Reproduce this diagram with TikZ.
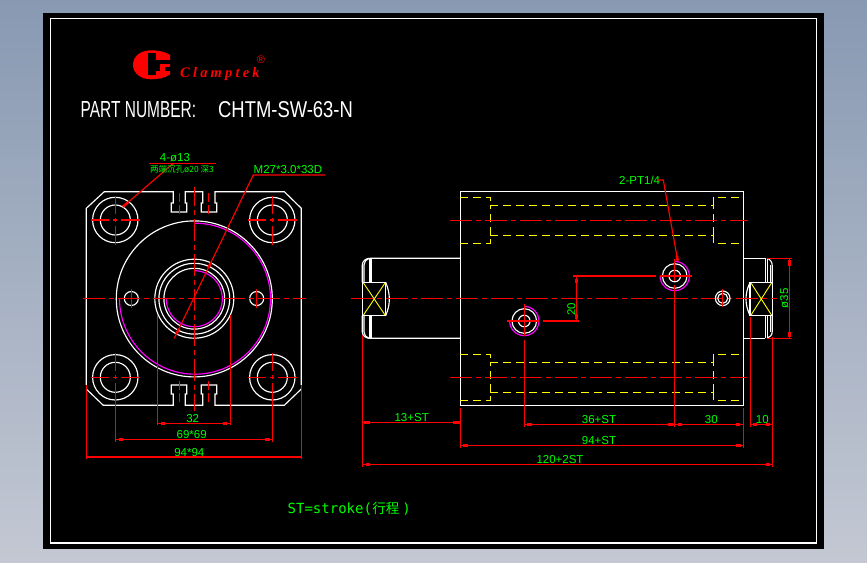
\documentclass[tikz,border=0pt]{standalone}
\usepackage{fontspec}
\usepackage{graphicx}
\setmainfont{Liberation Sans}
\newfontfamily\cjkfont{Noto Sans CJK SC}
\newfontfamily\clampfont[LetterSpace=22]{Liberation Serif}
\newfontfamily\strokefont{DejaVu Sans Mono}
\definecolor{cadred}{RGB}{255,0,0}
\definecolor{cadgreen}{RGB}{0,255,0}
\definecolor{cadmag}{RGB}{255,0,255}
\definecolor{cadyel}{RGB}{255,255,0}
\tikzset{
  outline/.style={draw=white,line width=1.15pt},
  hidden/.style={draw=cadyel,line width=1.15pt,dash pattern=on 8pt off 5pt},
  yelsolid/.style={draw=cadyel,line width=0.9pt},
  redline/.style={draw=cadred,line width=1.15pt},
  centerl/.style={draw=cadred,line width=1.15pt,dash pattern=on 22pt off 4pt on 5pt off 4pt},
  thinc/.style={draw=cadred,line width=0.8pt,dash pattern=on 22pt off 4pt on 5pt off 4pt},
  thread/.style={draw=cadmag,line width=1.15pt},
  lab/.style={text=cadgreen,inner sep=0pt,font=\fontsize{11.5}{12}\selectfont},
  tinylab/.style={text=cadgreen,inner sep=0pt,font=\fontsize{8.5}{9}\selectfont},
}
% three-quarter thread arc: missing the upper-left quadrant
\newcommand\threearc[3]{\draw[thread] plot[domain=-90:180,samples=90] ({#1+#3*cos(\x)},{#2+#3*sin(\x)});}
% hole centre cross
\newcommand\holecross[3]{%
  \draw[redline] ({#1-#3},#2) -- ({#1-6},#2) ({#1-2},#2) -- ({#1+2},#2) ({#1+6},#2) -- ({#1+#3},#2)
                 (#1,{#2-#3}) -- (#1,{#2-6}) (#1,{#2-2}) -- (#1,{#2+2}) (#1,{#2+6}) -- (#1,{#2+#3});}
% thick dimension tip
\newcommand\htip[3]{\fill[cadred] (#1,{#3-1.4}) rectangle (#2,{#3+1.4});}
\newcommand\vtip[3]{\fill[cadred] ({#3-1.4},#1) rectangle ({#3+1.4},#2);}
\begin{document}
\begin{tikzpicture}[x=1pt,y=-1pt]
\useasboundingbox (0,0) rectangle (867,562);
\shade[top color={rgb,255:red,136;green,153;blue,178},bottom color={rgb,255:red,195;green,200;blue,211}] (0,0) rectangle (867,562);
\fill[black] (43,13) rectangle (824,549);
\draw[white,line width=1.2pt] (50.5,18.5) rectangle (816.5,543);

% ---- logo
\fill[cadred] (151,50.3) .. controls (141,50.3) and (133,56) .. (133,64.8) .. controls (133,73.5) and (141,79.3) .. (151,79.3)
   .. controls (158,79.3) and (165,78) .. (170,74.5) -- (170,55) .. controls (165,51.5) and (158,50.3) .. (151,50.3) -- cycle;
\fill[black] (148.3,52.7) rectangle (155.7,75.3);
\fill[black] (155.7,60.3) rectangle (172,64);
\fill[black] (155.7,60.3) rectangle (160,71);
\fill[black] (165,66.7) rectangle (172,71);
\node[anchor=base west,inner sep=0pt,text=cadred,font=\fontsize{14.5}{15}\selectfont\clampfont\bfseries\itshape] (logotext) at (180,77) {Clamptek};
\node[text=cadred,inner sep=0pt,font=\fontsize{11}{11}\selectfont] (logoreg) at (261,59.3) {®};
\node[anchor=west,inner sep=0pt,text=white] (partno) at (80.5,110) {\resizebox{115.5pt}{16pt}{PART NUMBER:}};
\node[anchor=west,inner sep=0pt,text=white] (partid) at (218,110) {\resizebox{134.7pt}{16pt}{CHTM-SW-63-N}};

% ---- front view outline
\draw[outline] (86.3,385) -- (86.3,208.3) -- (104.3,191.7) -- (173.3,191.7) -- (173.3,203) -- (171.3,203) -- (171.3,212) -- (186.7,212) -- (186.7,203) -- (185.3,203) -- (185.3,191.7)
  -- (202.7,191.7) -- (202.7,203) -- (201.3,203) -- (201.3,212) -- (216.7,212) -- (216.7,203) -- (215,203) -- (215,191.7) -- (284.3,191.7) -- (301.3,208.3) -- (301.3,385);
\draw[outline] (86.3,389) -- (103.3,405.3) -- (173.3,405.3) -- (173.3,394) -- (171.3,394) -- (171.3,385) -- (186.7,385) -- (186.7,394) -- (185.3,394) -- (185.3,405.3)
  -- (202.7,405.3) -- (202.7,394) -- (201.3,394) -- (201.3,385) -- (216.7,385) -- (216.7,394) -- (215,394) -- (215,405.3) -- (284.3,405.3) -- (301.3,389);
\foreach \hx/\hy in {115.3/220,272.3/220,115.3/377.3,272.3/377.3}{
  \draw[outline] (\hx,\hy) circle[radius=22.7pt] (\hx,\hy) circle[radius=15pt];
}
\draw[outline] (194.3,298.9) circle[radius=78pt];
\threearc{195}{298.7}{75.5}
\foreach \r in {39.5,35.4,30.4}{\draw[outline] (194.3,298.7) circle[radius=\r pt];}
\threearc{194.3}{298.7}{28}
\draw[outline] (131.3,298.5) circle[radius=7pt] (256.7,298.5) circle[radius=7pt];

% ---- front view centre lines
\draw[centerl] (83,298.5) -- (305.7,298.5);
\draw[centerl,dash phase=3pt] (194.3,186.7) -- (194.3,410.7);
\holecross{115.3}{220}{24.5}
\holecross{272.3}{220}{24.5}
\holecross{115.3}{377.3}{24.5}
\holecross{272.3}{377.3}{24.5}
\draw[redline,dash pattern=on 9pt off 3pt] (179.3,193.3) -- (179.3,216.7) (208.3,193.3) -- (208.3,216.7);
\draw[redline,dash pattern=on 9pt off 3pt] (179.3,381) -- (179.3,404) (208.3,381) -- (208.3,404);
\draw[redline] (131.3,289) -- (131.3,308) (256.7,289) -- (256.7,308);

% ---- leaders
\draw[redline] (149,163.3) -- (216,163.3);
\coordinate (lead1) at (173.3,163.3);
\coordinate (lead1end) at (123,206.7);
\draw[redline] (lead1) -- (lead1end);
\draw[cadred,line width=2.6pt] (123,206.7) -- (128,202.4);
\coordinate (lead2) at (253.3,175);
\coordinate (lead2end) at (174.3,338.3);
\draw[redline] (325,175) -- (lead2) -- (lead2end);
\draw[cadred,line width=2.4pt] (208.4,268) -- (211,262.5);
\draw[cadred,line width=2.4pt] (176.5,334) -- (179,328.5);
\node[lab] (t4) at (175,158) {4-ø13};
\node[tinylab,text=cadgreen] (tcb) at (182,169) {\cjkfont 两端沉孔ø20 深3};
\node[lab,anchor=base west] (tm) at (253.5,173.5) {M27*3.0*33D};

% ---- front view dimensions
\draw[redline] (157.3,315) -- (157.3,425) (230.5,315) -- (230.5,425) (157.3,423.3) -- (230.5,423.3);
\htip{161}{165}{423.3}\htip{223}{227}{423.3}
\draw[redline] (115.3,391) -- (115.3,441.7) (272.3,391) -- (272.3,441.7) (115.3,439.3) -- (272.3,439.3);
\htip{118.5}{123}{439.3}\htip{265}{269.5}{439.3}
\draw[redline] (86.3,385) -- (86.3,459.3) (301.3,385) -- (301.3,459.3) (86.3,457) -- (301.3,457);
\htip{87}{93.5}{457}\htip{294.5}{300.5}{457}
\node[lab] (d32) at (192.7,419) {32};
\node[lab] (d69) at (191.7,434.7) {69*69};
\node[lab] (d94) at (189.3,452.3) {94*94};

% ---- side view body
\draw[outline] (460.3,258.3) -- (460.3,191.3) -- (743.7,191.3) -- (743.7,405.3) -- (460.3,405.3) -- (460.3,338.3);
\draw[outline] (460.3,258.3) -- (460.3,338.3);
% hidden bores
\draw[hidden] (460.3,197.3) -- (490.3,197.3) -- (490.3,205.3);
\draw[hidden] (490.3,205.3) -- (713.3,205.3);
\draw[hidden] (713.3,205.3) -- (713.3,197.3) -- (743.7,197.3);
\draw[hidden] (460.3,243.3) -- (490.3,243.3) -- (490.3,235.3);
\draw[hidden] (490.3,235.3) -- (713.3,235.3);
\draw[hidden] (713.3,235.3) -- (713.3,243.3) -- (743.7,243.3);
\draw[hidden] (490.3,235.3) -- (490.3,205.3) (713.3,235.3) -- (713.3,205.3);
\draw[hidden] (460.3,354.3) -- (490.3,354.3) -- (490.3,362.3);
\draw[hidden] (490.3,362.3) -- (713.3,362.3);
\draw[hidden] (713.3,362.3) -- (713.3,354.3) -- (743.7,354.3);
\draw[hidden] (460.3,400.3) -- (490.3,400.3) -- (490.3,392.3);
\draw[hidden] (490.3,392.3) -- (713.3,392.3);
\draw[hidden] (713.3,392.3) -- (713.3,400.3) -- (743.7,400.3);
\draw[hidden] (490.3,392.3) -- (490.3,362.3) (713.3,392.3) -- (713.3,362.3);

% ---- left rod
\draw[outline] (460.3,258.3) -- (370,258.3) .. controls (366,258.3) and (362.3,261) .. (362.3,265) -- (362.3,282.3);
\draw[outline] (460.3,338.3) -- (370,338.3) .. controls (366,338.3) and (362.3,336) .. (362.3,332) -- (362.3,315.7);
\draw[outline] (364,282.3) -- (364,265) .. controls (364,262) and (366,259.5) .. (369,258.3);
\draw[outline] (364,315.7) -- (364,332) .. controls (364,335) and (366,337.3) .. (369,338.3);
\draw[outline] (369.3,258.3) -- (369.3,282.3) (371,258.3) -- (371,282.3);
\draw[outline] (369.3,315.7) -- (369.3,338.3) (371,315.7) -- (371,338.3);
\draw[outline] (362.7,282.3) rectangle (385.7,315.7);
\draw[outline] (385.7,282.3) .. controls (388.5,289) and (389.3,294) .. (389.3,299) .. controls (389.3,304) and (388.5,309) .. (385.7,315.7);
\draw[yelsolid] (363.5,283) -- (385,315) (385,283) -- (363.5,315);

% ---- right rod
\draw[outline] (743.7,258.3) -- (765,258.3) (743.7,338.3) -- (765,338.3);
\draw[outline] (765.7,258.3) -- (765.7,282.3) (767.5,258.3) -- (767.5,282.3);
\draw[outline] (765.7,315.7) -- (765.7,338.3) (767.5,315.7) -- (767.5,338.3);
\draw[outline] (767,258.3) .. controls (770,259) and (772.3,262) .. (772.3,266) -- (772.3,282.3);
\draw[outline] (767,338.3) .. controls (770,337.5) and (772.3,335) .. (772.3,331) -- (772.3,315.7);
\draw[outline] (770.4,282.3) -- (770.4,265) (770.4,315.7) -- (770.4,332);
\draw[outline] (750,282.3) rectangle (772.3,315.7);
\draw[outline] (750,282.3) .. controls (747,289) and (746,294) .. (746,299) .. controls (746,304) and (747,309) .. (750,315.7);
\draw[yelsolid] (751,283) -- (771.5,315) (771.5,283) -- (751,315);

% ---- side view centre lines
\draw[centerl] (450,220.3) -- (747.7,220.3);
\draw[centerl] (351,298.3) -- (777,298.3);
\draw[thinc] (450,377.3) -- (747,377.3);

% ---- ports
\threearc{674.7}{276}{14.6}
\draw[outline] (674.7,276) circle[radius=12.3pt] (674.7,276) circle[radius=5.8pt];
\threearc{524.3}{321}{14.6}
\draw[outline] (524.3,321) circle[radius=12.3pt] (524.3,321) circle[radius=5.8pt];
\draw[outline] (722.7,298.3) circle[radius=7.3pt] (722.7,298.3) circle[radius=5pt];
\draw[redline] (722.7,289) -- (722.7,307);
\draw[redline] (573.3,276) -- (656,276) (660,276) -- (691.7,276);
\draw[redline] (674.7,259.3) -- (674.7,281) (674.7,285) -- (674.7,426.7);
\draw[redline] (507.3,321) -- (539,321) (542.7,321) -- (579,321);
\draw[redline] (524.3,304.3) -- (524.3,336) (524.3,340) -- (524.3,426.7);

% ---- side dimensions
\draw[redline] (576.3,276) -- (576.3,321);
\vtip{278.5}{283}{576.3}\vtip{314}{319}{576.3}
\node[lab,rotate=90] (d20) at (571.3,309.3) {20};
\draw[redline] (362.3,335) -- (362.3,466.7) (460.3,408.3) -- (460.3,447.7) (743.3,408.3) -- (743.3,447.7) (772.3,336.7) -- (772.3,466.7) (750.3,316.7) -- (750.3,426.7);
\draw[redline] (362.3,422.3) -- (460.3,422.3);
\htip{364}{370}{422.3}\htip{453.3}{460}{422.3}
\draw[redline] (524.3,424.3) -- (743.3,424.3);
\htip{526.7}{531.7}{424.3}\htip{668.3}{673}{424.3}\htip{678.3}{681.7}{424.3}\htip{735.7}{740}{424.3}
\draw[redline] (460.3,445.3) -- (743.3,445.3);
\htip{463.3}{467.7}{445.3}\htip{736}{740.7}{445.3}
\draw[redline] (362.3,464.3) -- (772.3,464.3);
\htip{366}{370}{464.3}\htip{765.7}{770}{464.3}
\draw[redline] (750.3,424.3) -- (772.3,424.3);
\htip{752.7}{756.7}{424.3}\htip{765.7}{770}{424.3}
\draw[redline] (767,258.3) -- (791.7,258.3) (767,338.3) -- (791.7,338.3) (789.3,258.3) -- (789.3,338.3);
\vtip{260}{266}{789.3}\vtip{331.7}{336.7}{789.3}
\node[lab] (d13) at (411.7,418) {13+ST};
\node[lab] (d36) at (599,420) {36+ST};
\node[lab] (d30) at (711.3,420) {30};
\node[lab] (d10) at (762.3,420) {10};
\node[lab] (d94s) at (599,440.7) {94+ST};
\node[lab] (d120) at (560,460) {120+2ST};
\node[lab,rotate=90] (d35) at (784.3,298.3) {ø35};

% ---- port leader
\node[lab,anchor=west] (tpt) at (619,180) {2-PT1/4};
\coordinate (lead3a) at (657.3,180);
\coordinate (lead3b) at (663.3,180);
\coordinate (lead3c) at (677.7,260.7);
\draw[redline] (lead3a) -- (lead3b) -- (lead3c);
\draw[cadred,line width=2.6pt] (676.8,255.5) -- (677.7,260.7);

% ---- footer
\node[anchor=west,inner sep=0pt,text=cadgreen,font=\fontsize{14}{16}\selectfont\strokefont] (tst) at (287.5,508.3) {ST=stroke(\hspace{0.5pt}{\cjkfont\fontsize{13.5}{16}\selectfont 行程}\hspace{3pt})};
\end{tikzpicture}
\end{document}
